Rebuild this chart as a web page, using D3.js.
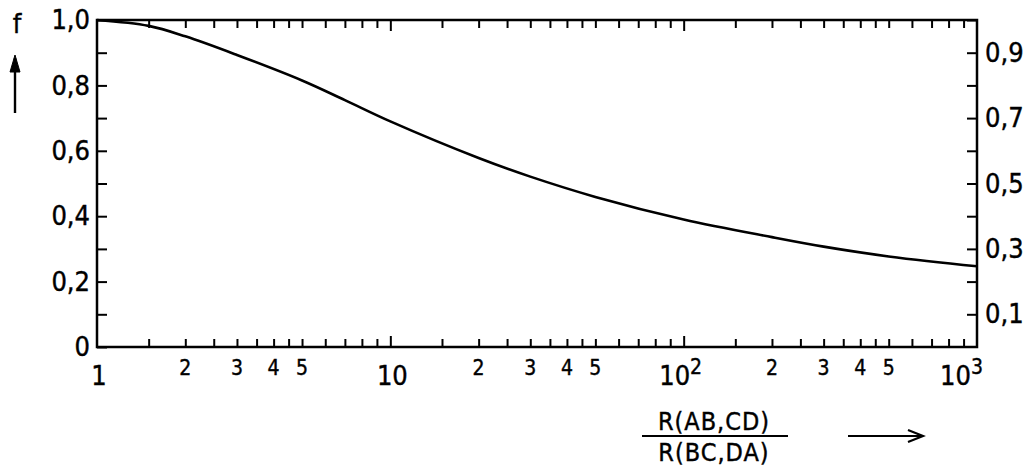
<!DOCTYPE html>
<html>
<head>
<meta charset="utf-8">
<script src="https://cdn.jsdelivr.net/npm/d3@7"></script>
<style>
  body { margin: 0; background: #fff; }
  svg text { font-family: "DejaVu Sans Condensed", "DejaVu Sans", sans-serif; font-stretch: condensed; fill: #000; stroke: #000; stroke-width: 0.4px; }
</style>
</head>
<body>
<svg id="svg1" width="1028" height="474"></svg>
<script>
// curve
var ratio  = [1, 1.5, 2, 3, 5, 7, 10, 20, 30, 50, 100, 200, 300, 500, 1000];
var fVals  = [1.0, 0.982, 0.95, 0.893, 0.815, 0.755, 0.69, 0.578, 0.521, 0.459, 0.39, 0.336, 0.307, 0.277, 0.247];

var minorSteps = [1.5, 2, 2.5, 3, 3.5, 4, 4.5, 5, 6, 7, 8, 9];
var decades = [1, 10, 100];
var smallLabels = [2, 3, 4, 5];
var decadeLabels = [[1, "1", ""], [10, "10", ""], [100, "10", "2"], [1000, "10", "3"]];
var leftTicks = d3.range(0, 11).map(function(i){ return i / 10; });
var rightTicks = d3.range(1, 11).map(function(i){ return i / 10; });

var svg1 = d3.select("#svg1");
var pLeft = 97, pRight = 977, pTop = 20, pBottom = 347;

var x = d3.scaleLog().domain([1, 1000]).range([pLeft, pRight]);
var y = d3.scaleLinear().domain([0, 1]).range([pBottom, pTop]);

var minorTicks = [];
decades.forEach(function(d){
  minorSteps.forEach(function(s){ minorTicks.push(d * s); });
});

function comma(v){ return v === 0 ? "0" : v.toFixed(1).replace(".", ","); }

// bottom + top minor ticks
svg1.append("g").attr("class", "ax")
  .attr("transform", `translate(0,${pBottom})`)
  .call(d3.axisBottom(x).tickValues(minorTicks).tickSize(-8).tickSizeOuter(0).tickFormat(""));
svg1.append("g").attr("class", "ax")
  .attr("transform", `translate(0,${pBottom})`)
  .call(d3.axisBottom(x).tickValues([10, 100]).tickSize(-11).tickSizeOuter(0).tickFormat(""));
svg1.append("g").attr("class", "ax")
  .attr("transform", `translate(0,${pTop})`)
  .call(d3.axisTop(x).tickValues(minorTicks).tickSize(-8).tickSizeOuter(0).tickFormat(""));
svg1.append("g").attr("class", "ax")
  .attr("transform", `translate(0,${pTop})`)
  .call(d3.axisTop(x).tickValues([10, 100]).tickSize(-11).tickSizeOuter(0).tickFormat(""));

// left axis
svg1.append("g").attr("class", "ax lab")
  .attr("transform", `translate(${pLeft},0)`)
  .call(d3.axisLeft(y).tickValues(leftTicks).tickSize(-10).tickSizeOuter(0).tickPadding(7)
    .tickFormat(function(v){ return Math.round(v * 10) % 2 === 0 ? comma(v) : ""; }));

// right axis
svg1.append("g").attr("class", "ax lab")
  .attr("transform", `translate(${pRight},0)`)
  .call(d3.axisRight(y).tickValues(rightTicks).tickSize(-10).tickSizeOuter(0).tickPadding(8)
    .tickFormat(function(v){ return Math.round(v * 10) % 2 === 1 ? comma(v) : ""; }));

svg1.selectAll(".ax .domain").remove();
svg1.selectAll(".ax line").attr("stroke", "#000").attr("stroke-width", 2);
svg1.selectAll(".lab text").style("font-size", "27px").attr("fill", "#000");

// frame
svg1.append("rect")
  .attr("x", pLeft).attr("y", pTop)
  .attr("width", pRight - pLeft).attr("height", pBottom - pTop)
  .attr("fill", "none").attr("stroke", "#000").attr("stroke-width", 2.5);

// x labels
svg1.append("g").selectAll("text")
  .data(d3.merge([1, 10, 100].map(function(d){ return smallLabels.map(function(s){ return [d * s, s]; }); })))
  .enter().append("text")
  .attr("x", function(d){ return x(d[0]); })
  .attr("y", 375)
  .attr("text-anchor", "middle")
  .style("font-size", "21px")
  .text(function(d){ return d[1]; });

var dl = svg1.append("g").selectAll("text")
  .data(decadeLabels)
  .enter().append("text")
  .attr("x", function(d){ return d[0] === 1000 ? x(d[0]) + 6 : x(d[0]) + (d[2] ? -3 : 2); })
  .attr("y", 385)
  .attr("text-anchor", function(d){ return d[0] === 1000 ? "end" : "middle"; })
  .style("font-size", "27px");
dl.append("tspan").text(function(d){ return d[1]; });
dl.append("tspan")
  .attr("dy", -11)
  .style("font-size", "21px")
  .text(function(d){ return d[2]; });

// curve
var line = d3.line()
  .x(function(d, i){ return x(ratio[i]); })
  .y(function(d){ return y(d); })
  .curve(d3.curveCatmullRom.alpha(0.5));

svg1.append("path")
  .datum(fVals)
  .attr("d", line)
  .attr("fill", "none")
  .attr("stroke", "#000")
  .attr("stroke-width", 2.6);

// y title
svg1.append("text")
  .attr("x", 17).attr("y", 33)
  .attr("text-anchor", "middle")
  .style("font-size", "27px")
  .text("f");
svg1.append("line")
  .attr("x1", 15).attr("y1", 113).attr("x2", 15).attr("y2", 58)
  .attr("stroke", "#000").attr("stroke-width", 2.4);
svg1.append("path")
  .attr("d", "M10,72 L15,55 L20,72 Z")
  .attr("fill", "#000").attr("stroke", "#000").attr("stroke-width", 1);

// x title (fraction)
var cx = 714;
svg1.append("text")
  .attr("x", cx).attr("y", 430)
  .attr("text-anchor", "middle")
  .style("font-size", "25px")
  .style("letter-spacing", "1px")
  .text("R(AB,CD)");
svg1.append("line")
  .attr("x1", 642).attr("x2", 788).attr("y1", 436).attr("y2", 436)
  .attr("stroke", "#000").attr("stroke-width", 2.2);
svg1.append("text")
  .attr("x", cx).attr("y", 461)
  .attr("text-anchor", "middle")
  .style("font-size", "25px")
  .style("letter-spacing", "1px")
  .text("R(BC,DA)");

svg1.append("line")
  .attr("x1", 848).attr("x2", 922).attr("y1", 436).attr("y2", 436)
  .attr("stroke", "#000").attr("stroke-width", 2.2);
svg1.append("path")
  .attr("d", "M908,430 L923,436 L908,442")
  .attr("fill", "none").attr("stroke", "#000").attr("stroke-width", 2.2);
</script>
</body>
</html>
